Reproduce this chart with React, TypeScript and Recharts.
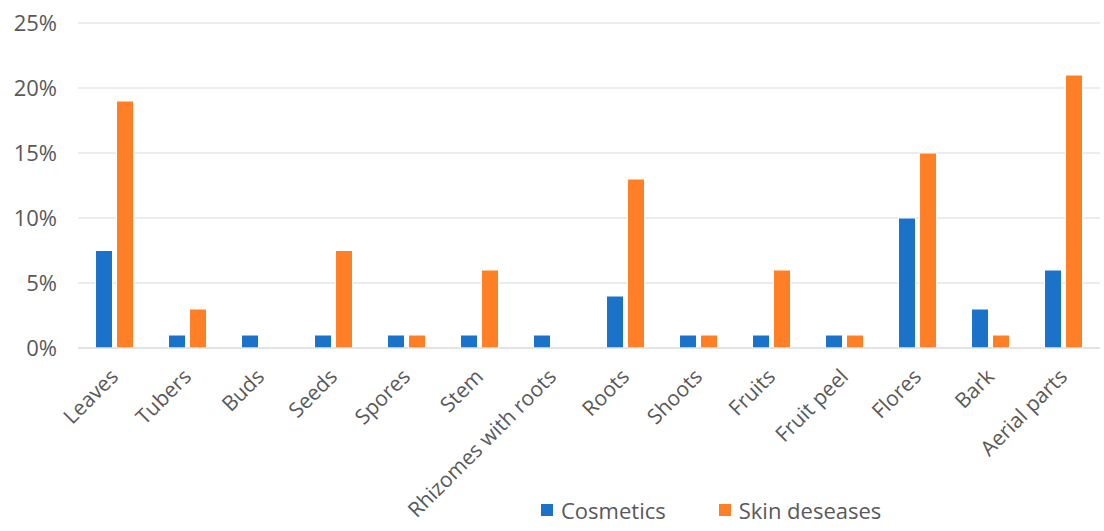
import { Bar, BarChart, CartesianGrid, Legend, XAxis, YAxis } from "recharts";

const categories = [
  "Leaves",
  "Tubers",
  "Buds",
  "Seeds",
  "Spores",
  "Stem",
  "Rhizomes with roots",
  "Roots",
  "Shoots",
  "Fruits",
  "Fruit peel",
  "Flores",
  "Bark",
  "Aerial parts",
];
const cosmetics = [7.5, 1, 1, 1, 1, 1, 1, 4, 1, 1, 1, 10, 3, 6];
const skinDiseases = [19, 3, 0, 7.5, 1, 6, 0, 13, 1, 6, 1, 15, 1, 21];
const yTicks = [0, 5, 10, 15, 20, 25];

const BLUE = "#1a73c9";
const ORANGE = "#ff7f27";
const TEXT = "#595959";
const FONT = "'Open Sans', sans-serif";
const FS = 22;

const rows = categories.map((name, i) => ({
  name,
  cosmetics: cosmetics[i],
  skin: skinDiseases[i],
}));

function SlantTick({ x, y, payload }: any) {
  return (
    <g transform={`translate(${x + 5},${y + 22})`}>
      <text
        transform="rotate(-45)"
        textAnchor="end"
        fill={TEXT}
        fontSize={21}
        fontFamily={FONT}
      >
        {payload.value}
      </text>
    </g>
  );
}

function LegendBox() {
  const items = [
    { label: "Cosmetics", color: BLUE, gap: 0 },
    { label: "Skin deseases", color: ORANGE, gap: 53 },
  ];
  return (
    <div style={{ display: "flex", alignItems: "center", height: 30 }}>
      {items.map((it) => (
        <div
          key={it.label}
          style={{ display: "flex", alignItems: "center", marginLeft: it.gap }}
        >
          <span style={{ width: 12, height: 12, background: it.color, display: "inline-block" }} />
          <span style={{ marginLeft: 8, color: TEXT, fontSize: FS, fontFamily: FONT }}>{it.label}</span>
        </div>
      ))}
    </div>
  );
}

export default function App() {
  return (
    <div style={{ position: "absolute", left: 0, top: 0, background: "#fff" }}>
      <BarChart
        width={1104}
        height={531}
        data={rows}
        margin={{ top: 23, right: 4, bottom: 0, left: 0 }}
        barCategoryGap="24%"
        barGap={4}
      >
        <CartesianGrid stroke="#d9d9d9" vertical={false} />
        <XAxis
          dataKey="name"
          interval={0}
          tick={<SlantTick />}
          tickLine={false}
          axisLine={{ stroke: "#d9d9d9" }}
          height={153}
        />
        <YAxis
          domain={[0, 25]}
          ticks={yTicks}
          tickFormatter={(v) => `${v}%`}
          tick={{ fill: TEXT, fontSize: FS, fontFamily: FONT }}
          tickLine={false}
          axisLine={false}
          tickMargin={15}
          width={78}
        />
        <Legend
          content={<LegendBox />}
          wrapperStyle={{ left: 541, top: 495, width: 420 }}
        />
        <Bar dataKey="cosmetics" fill={BLUE} stroke="#fff" strokeWidth={1} isAnimationActive={false} />
        <Bar dataKey="skin" fill={ORANGE} stroke="#fff" strokeWidth={1} isAnimationActive={false} />
      </BarChart>
    </div>
  );
}
